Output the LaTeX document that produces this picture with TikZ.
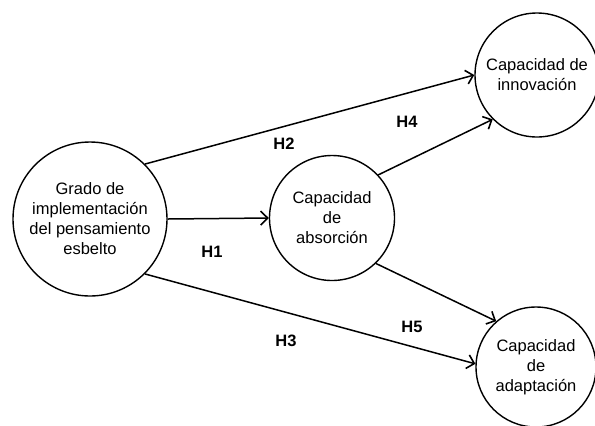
\documentclass[tikz,border=0pt]{standalone}
\usepackage{fontspec}
\setmainfont{Liberation Sans}
\usetikzlibrary{arrows.meta}
\begin{document}
\begin{tikzpicture}[x=1bp,y=-1bp,
  var/.style={circle,draw,line width=1.4bp,align=center,inner sep=0pt,
    font=\fontsize{16.5bp}{20bp}\selectfont},
  link/.style={line width=1.5bp,-{Straight Barb[length=7bp,width=14bp,line width=1.6bp]}},
  hlab/.style={font=\fontsize{16.5bp}{19bp}\selectfont\bfseries}]
\useasboundingbox (0,0) rectangle (595,425);
\clip (0,0) rectangle (595,425);
\node[var,minimum size=154bp] (g) at (90,219) {Grado de\\implementación\\del pensamiento\\esbelto};
\node[var,minimum size=125bp] (a) at (332,218) {Capacidad\\de\\absorción};
\node[var,minimum size=124bp] (i) at (537,75) {Capacidad de\\innovación};
\node[var,minimum size=120bp] (d) at (536,367) {Capacidad\\de\\adaptación};
\draw[link] (g.45) -- (i.180);
\draw[link] (g.0) -- (a.180);
\draw[link] (g.-45) -- (d.177);
\draw[link] (a.43) -- (i.225);
\draw[link] (a.-46) -- (d.131);
\node[hlab] (h2) at (284,144) {H2};
\node[hlab] (h4) at (407,122) {H4};
\node[hlab] (h1) at (212,252) {H1};
\node[hlab] (h3) at (286,341) {H3};
\node[hlab] (h5) at (412,327) {H5};
\end{tikzpicture}
\end{document}
